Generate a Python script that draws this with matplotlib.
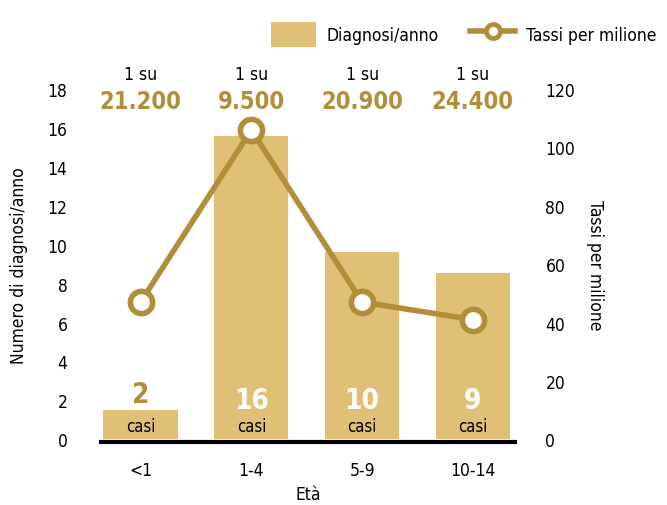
import matplotlib
matplotlib.use("Agg")
import matplotlib.pyplot as plt
from matplotlib.lines import Line2D
from matplotlib.patches import Patch

plt.rcParams['font.family'] = ['DejaVu Sans']
plt.rcParams['font.stretch'] = 'condensed'

categories = ["<1", "1-4", "5-9", "10-14"]
diagnoses = [1.5, 15.6, 9.6, 8.55]
rates = [47, 106, 47, 41]
case_labels = ["2", "16", "10", "9"]
ratio_labels = ["21.200", "9.500", "20.900", "24.400"]

bar_color = "#E0C077"
gold = "#B08E3A"

fig = plt.figure(figsize=(6.67, 5.06), dpi=100)
ax = fig.add_axes([0.151, 0.130, 0.621, 0.692])
x = list(range(len(categories)))
ax.bar(x, diagnoses, width=0.67, color=bar_color, zorder=1)
ax.set_xlim(-0.36, 3.38)
ax.set_ylim(0, 18)
ax.set_yticks(range(0, 19, 2))
ax.set_xticks(x)
ax.set_xticklabels(categories)
ax.tick_params(axis='both', length=0, labelsize=12.5)
ax.tick_params(axis='x', pad=14)
ax.tick_params(axis='y', pad=24)
for s in ['top', 'right', 'left']:
    ax.spines[s].set_visible(False)
ax.spines['bottom'].set_linewidth(3)
ax.spines['bottom'].set_position(('outward', 2))
ax.set_ylabel("Numero di diagnosi/anno", fontsize=12.5, labelpad=14)
ax.set_xlabel("Età", fontsize=12.5, labelpad=4)

ax2 = ax.twinx()
ax2.set_ylim(0, 120)
ax2.set_yticks(range(0, 121, 20))
ax2.tick_params(axis='y', length=0, labelsize=12.5, pad=22)
for s in ['top', 'right', 'left', 'bottom']:
    ax2.spines[s].set_visible(False)
ax2.plot(x, rates, color=gold, lw=4, marker='o', ms=16, mfc='white',
         mec=gold, mew=4, zorder=3)
ax2.set_ylabel("Tassi per milione", fontsize=12.5, rotation=270, labelpad=21)

for i, (v, cl) in enumerate(zip(diagnoses, case_labels)):
    if v < 3:
        ax.text(i, v + 0.1, cl, ha='center', va='bottom', fontsize=20,
                fontweight='bold', color=gold)
    else:
        ax.text(i, 1.3, cl, ha='center', va='bottom', fontsize=20,
                fontweight='bold', color='white')
    ax.text(i, 0.2, "casi", ha='center', va='bottom', fontsize=12, color='black')

for i, rl in enumerate(ratio_labels):
    ax.text(i, 18.8, "1 su", ha='center', va='center', fontsize=12.5,
            color='black', clip_on=False)
    ax.text(i, 17.4, rl, ha='center', va='center', fontsize=17,
            fontweight='bold', color=gold, clip_on=False)

handles = [Patch(facecolor=bar_color, edgecolor='none'),
           Line2D([0], [0], color=gold, lw=4, marker='o', ms=10,
                  mfc='white', mec=gold, mew=3.5)]
fig.legend(handles, ["Diagnosi/anno", "Tassi per milione"], loc='center',
           bbox_to_anchor=(0.695, 0.93), ncol=2, frameon=False, fontsize=12.5,
           handlelength=2.6, handleheight=1.9, columnspacing=1.8,
           handletextpad=0.6)

fig.savefig("out.png", dpi=100)
